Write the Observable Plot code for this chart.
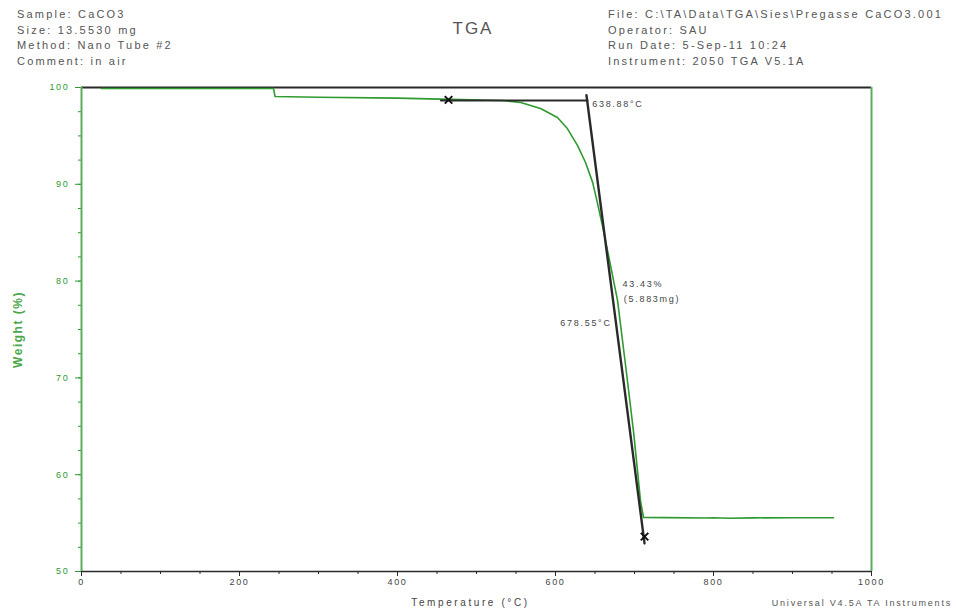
<!DOCTYPE html>
<html>
<head>
<meta charset="utf-8">
<script src="https://cdn.jsdelivr.net/npm/d3@7"></script>
<script src="https://cdn.jsdelivr.net/npm/@observablehq/plot@0.6"></script>
<style>
  html, body { margin: 0; padding: 0; background: #fff; }
  body { width: 954px; height: 611px; position: relative; overflow: hidden; font-family: "Liberation Sans", Arial, sans-serif; }
  .hdr { position: absolute; font-size: 11px; line-height: 15.5px; color: #555; letter-spacing: 2.2px; white-space: pre; }
  #title { position: absolute; left: 0; width: 946px; top: 19px; text-align: center; font-size: 17px; color: #555; letter-spacing: 2px; }
  #caption { position: absolute; right: 2px; top: 598px; font-size: 9px; color: #555; letter-spacing: 1.8px; white-space: pre; }
  #chart { position: absolute; left: 0; top: 0; }
  #chart svg text { letter-spacing: 1.7px; }
</style>
</head>
<body>
<div id="chart"></div>
<div class="hdr" id="left" style="left:17px; top:7px;"></div>
<div class="hdr" id="right" style="left:608px; top:7px;"></div>
<div id="title"></div>
<div id="caption"></div>
<script>
// ---- data ----
const headerLeft = ["Sample: CaCO3", "Size: 13.5530 mg", "Method: Nano Tube #2", "Comment: in air"];
const headerRight = ["File: C:\\TA\\Data\\TGA\\Sies\\Pregasse CaCO3.001", "Operator: SAU", "Run Date: 5-Sep-11 10:24", "Instrument: 2050 TGA V5.1A"];
const titleText = "TGA";
const captionText = "Universal V4.5A TA Instruments";
const xLabel = "Temperature (°C)";
const yLabel = "Weight (%)";

const temperature = [25, 243, 245, 300, 400, 480, 533, 556, 581, 602.5, 615, 628, 638, 647, 653, 660, 668, 678.5, 689, 699, 707.6, 711.4, 740, 790, 800, 820, 850, 900, 952];
const weight      = [99.9, 99.9, 99.07, 99.0, 98.9, 98.75, 98.66, 98.45, 97.83, 96.9, 95.76, 94.0, 92.25, 90.2, 88.1, 85.5, 82.3, 78.0, 71.1, 64.3, 57.3, 55.58, 55.57, 55.52, 55.55, 55.5, 55.54, 55.56, 55.56];

const baselineT = [455, 640.5];
const baselineW = [98.66, 98.66];
const tangentT = [639.2, 712.7];
const tangentW = [99.2, 52.9];

const xMajor = [0, 200, 400, 600, 800, 1000];
const xMinor = d3.range(0, 1001, 50);
const yMajor = [50, 60, 70, 80, 90, 100];
const yMinor = d3.range(50, 100.1, 2.5);

// annotations anchored at start (left-aligned)
const startT = [646.5, 684.8, 686.5];
const startW = [98.25, 79.7, 78.15];
const startText = ["638.88°C", "43.43%", "(5.883mg)"];
// annotation anchored at end (right-aligned)
const endT = [671];
const endW = [75.7];
const endText = ["678.55°C"];

const markT = [464.6, 712.7];
const markW = [98.72, 53.6];

// ---- build ----
const curve = temperature.map((t, i) => ({t, w: weight[i]}));
const base = baselineT.map((t, i) => ({t, w: baselineW[i]}));
const tang = tangentT.map((t, i) => ({t, w: tangentW[i]}));
const startAnn = startText.map((s, i) => ({t: startT[i], w: startW[i], s}));
const endAnn = endText.map((s, i) => ({t: endT[i], w: endW[i], s}));
const marks = markT.map((t, i) => ({t, w: markW[i]}));

const green = "#2f9a2f";
const axisGreen = "#5aae5a";
const dark = "#2a2a2a";

const plot = Plot.plot({
  width: 954,
  height: 611,
  marginTop: 87,
  marginBottom: 40,
  marginLeft: 81,
  marginRight: 83,
  style: {fontFamily: "'Liberation Sans', Arial, sans-serif", background: "transparent"},
  x: {domain: [0, 1000]},
  y: {domain: [50, 100]},
  marks: [
    Plot.axisX({ticks: xMinor, tickSize: 3, text: null, label: null, stroke: dark}),
    Plot.axisX({ticks: xMajor, tickSize: 5, tickPadding: 2, label: null, fontSize: 9, fill: "#444", stroke: dark, tickFormat: d => String(d)}),
    Plot.axisY({ticks: yMinor, tickSize: 3, text: null, label: null, stroke: green}),
    Plot.axisY({ticks: yMajor, tickSize: 6, tickPadding: 6, label: null, fontSize: 9, fill: green, stroke: green, tickFormat: d => String(d)}),
    Plot.ruleY([100], {stroke: dark, strokeWidth: 2}),
    Plot.ruleY([50], {stroke: dark, strokeWidth: 1.5}),
    Plot.ruleX([0], {stroke: axisGreen, strokeWidth: 2}),
    Plot.ruleX([1000], {stroke: axisGreen, strokeWidth: 2}),
    Plot.line(curve, {x: "t", y: "w", stroke: green, strokeWidth: 1.6}),
    Plot.line(base, {x: "t", y: "w", stroke: dark, strokeWidth: 2}),
    Plot.line(tang, {x: "t", y: "w", stroke: dark, strokeWidth: 2.4}),
    Plot.dot(marks, {x: "t", y: "w", symbol: "times", r: 3.5, stroke: "#111", strokeWidth: 2}),
    Plot.text(startAnn, {x: "t", y: "w", text: "s", textAnchor: "start", fontSize: 9, fill: "#444"}),
    Plot.text(endAnn, {x: "t", y: "w", text: "s", textAnchor: "end", fontSize: 9, fill: "#444"}),
    Plot.text([xLabel], {frameAnchor: "bottom", dx: -6, dy: 34, textAnchor: "middle", fontSize: 10, fill: "#444"}),
    Plot.text([yLabel], {frameAnchor: "left", dx: -63, rotate: -90, textAnchor: "middle", fontSize: 12, fontWeight: "bold", fill: "#4aa84a"})
  ]
});
document.getElementById("chart").appendChild(plot);
d3.select(plot).selectAll("text").each(function() {
  const t = this.textContent;
  if (t === xLabel) this.style.letterSpacing = "2.6px";
  if (t === yLabel) this.style.letterSpacing = "1.5px";
});
document.getElementById("left").textContent = headerLeft.join("\n");
document.getElementById("right").textContent = headerRight.join("\n");
document.getElementById("title").textContent = titleText;
document.getElementById("caption").textContent = captionText;
</script>
</body>
</html>
